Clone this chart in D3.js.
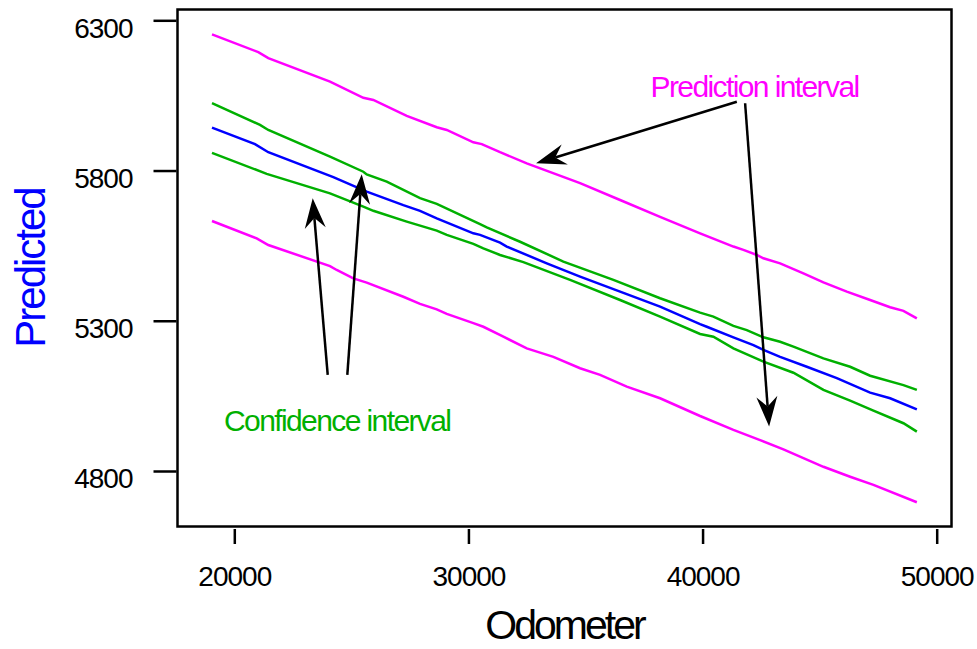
<!DOCTYPE html>
<html>
<head>
<meta charset="utf-8">
<script src="https://d3js.org/d3.v7.min.js"></script>
<style>
  body { margin: 0; background: #fff; }
  svg text { font-family: "Liberation Sans", Arial, sans-serif; }
</style>
</head>
<body>
<div id="chart"></div>
<script>
// values: [odometer, predicted]
const fitLine = [
  [19047, 5943], [20884, 5888], [21452, 5861], [24229, 5778], [25656, 5730],
  [27220, 5685], [27933, 5666], [28647, 5641], [30210, 5591], [30496, 5586],
  [31350, 5560], [31636, 5547], [33346, 5491], [34768, 5447], [36477, 5397],
  [38185, 5347], [39894, 5289], [40180, 5280], [41317, 5245], [42172, 5219],
  [42599, 5203], [43312, 5180], [44452, 5147], [45734, 5109], [47157, 5061],
  [48011, 5042], [49152, 5005]
];
const ciUpper = [
  [19047, 6024], [21098, 5952], [21452, 5935], [24088, 5846], [25511, 5796],
  [25656, 5787], [26511, 5763], [27933, 5708], [28647, 5689], [30496, 5622],
  [30782, 5611], [32205, 5563], [34055, 5497], [36191, 5436], [38185, 5375],
  [39894, 5327], [40462, 5314], [41317, 5283], [41889, 5269], [42599, 5245],
  [43312, 5230], [43880, 5214], [45162, 5175], [46302, 5147], [47157, 5117],
  [48579, 5086], [49152, 5070]
];
const ciLower = [
  [19047, 5859], [21384, 5789], [24088, 5724], [25511, 5680], [25938, 5666],
  [27365, 5630], [28647, 5600], [29074, 5586], [30210, 5556], [30637, 5541],
  [31350, 5519], [32346, 5495], [34341, 5436], [36477, 5369], [38185, 5314],
  [39894, 5256], [40462, 5247], [41317, 5208], [42599, 5164], [43880, 5127],
  [45162, 5070], [46302, 5034], [47298, 5001], [48579, 4959], [49152, 4931]
];
const piUpper = [
  [19047, 6253], [21025, 6194], [21452, 6174], [24088, 6096], [25511, 6042],
  [25938, 6035], [27365, 5982], [28647, 5944], [29074, 5935], [30210, 5894],
  [30569, 5888], [31350, 5861], [32491, 5824], [34768, 5758], [36477, 5702],
  [38185, 5646], [39894, 5591], [41317, 5547], [41744, 5536], [42317, 5519],
  [42599, 5508], [43312, 5491], [44307, 5458], [45162, 5428], [46161, 5397],
  [47157, 5369], [48011, 5345], [48579, 5333], [49152, 5308]
];
const piLower = [
  [19047, 5632], [20957, 5574], [21452, 5552], [24088, 5482], [24374, 5469],
  [25084, 5441], [25656, 5427], [27220, 5380], [27933, 5356], [28647, 5338],
  [29074, 5323], [30210, 5292], [30637, 5280], [31492, 5247], [32491, 5208],
  [33628, 5180], [34768, 5142], [35623, 5120], [36763, 5081], [38185, 5042],
  [39894, 4983], [41317, 4937], [42458, 4903], [43453, 4872], [45162, 4814],
  [46302, 4781], [47298, 4754], [49152, 4696]
];
const xTicks = [20000, 30000, 40000, 50000];
const yTicks = [4800, 5300, 5800, 6300];

// callouts, in data units
const labels = [
  { text: 'Prediction interval', x: 42220, y: 6045, color: '#ff00ff' },
  { text: 'Confidence interval', x: 24396, y: 4934, color: '#00b000' }
];
const arrows = [
  { from: [41463, 6029], to: [32889, 5824] },
  { from: [41817, 6024], to: [42842, 4948] },
  { from: [23990, 5120], to: [23349, 5708] },
  { from: [24827, 5120], to: [25443, 5788] }
];

(function () {
  const width = 977;
  const height = 649;
  const frame = { left: 177.5, right: 951.5, top: 9.5, bottom: 526.5 };

  const x = d3.scaleLinear().domain([20000, 50000]).range([234.3, 936.7]);
  const y = d3.scaleLinear().domain([4800, 6300]).range([471, 20.3]);

  const svg = d3.select('#chart')
    .append('svg')
    .attr('width', width)
    .attr('height', height);

  svg.append('rect')
    .attr('x', frame.left)
    .attr('y', frame.top)
    .attr('width', frame.right - frame.left)
    .attr('height', frame.bottom - frame.top)
    .attr('fill', 'none')
    .attr('stroke', '#000')
    .attr('stroke-width', 2.5);

  // y axis, ticks sit outside the frame
  const yAxis = svg.append('g')
    .attr('transform', 'translate(' + (frame.left - 1) + ',0)')
    .call(d3.axisLeft(y).tickValues(yTicks).tickSize(23).tickPadding(21).tickFormat(d3.format('d')));
  yAxis.select('.domain').remove();
  yAxis.selectAll('line').attr('stroke-width', 2.5);
  yAxis.selectAll('text')
    .attr('dy', '0.6em')
    .style('font-size', '28px')
    .style('letter-spacing', '-1px')
    .attr('fill', '#000');

  const xAxis = svg.append('g')
    .attr('transform', 'translate(0,' + (frame.bottom + 2.5) + ')')
    .call(d3.axisBottom(x).tickValues(xTicks).tickSize(15).tickPadding(22).tickFormat(d3.format('d')));
  xAxis.select('.domain').remove();
  xAxis.selectAll('line').attr('stroke-width', 2.5);
  xAxis.selectAll('text')
    .style('font-size', '28px')
    .style('letter-spacing', '-1px')
    .attr('fill', '#000');

  svg.append('text')
    .attr('transform', 'translate(45,' + ((frame.top + frame.bottom) / 2) + ') rotate(-90)')
    .attr('text-anchor', 'middle')
    .style('font-size', '42px')
    .style('letter-spacing', '-2px')
    .attr('fill', '#0000ff')
    .text('Predicted');

  svg.append('text')
    .attr('x', (frame.left + frame.right) / 2)
    .attr('y', 639)
    .attr('text-anchor', 'middle')
    .style('font-size', '41px')
    .style('letter-spacing', '-3px')
    .attr('fill', '#000')
    .text('Odometer');

  const line = d3.line()
    .x(d => x(d[0]))
    .y(d => y(d[1]));

  const series = [
    { data: piUpper, color: '#ff00ff' },
    { data: piLower, color: '#ff00ff' },
    { data: ciUpper, color: '#00b000' },
    { data: ciLower, color: '#00b000' },
    { data: fitLine, color: '#0000ff' }
  ];

  svg.selectAll('.series')
    .data(series)
    .enter().append('path')
    .attr('class', 'series')
    .attr('d', d => line(d.data))
    .attr('fill', 'none')
    .attr('stroke', d => d.color)
    .attr('stroke-width', 2.5);

  svg.selectAll('.label')
    .data(labels)
    .enter().append('text')
    .attr('class', 'label')
    .attr('x', d => x(d.x))
    .attr('y', d => y(d.y))
    .attr('text-anchor', 'middle')
    .style('font-size', '30px')
    .style('letter-spacing', '-1.6px')
    .attr('fill', d => d.color)
    .text(d => d.text);

  // arrow: shaft plus a notched head at the tip
  const headLen = 30, headHalf = 10.5, notch = 20;
  const angle = d => Math.atan2(y(d.to[1]) - y(d.from[1]), x(d.to[0]) - x(d.from[0]));

  const g = svg.selectAll('.arrow')
    .data(arrows)
    .enter().append('g')
    .attr('class', 'arrow');

  g.append('line')
    .attr('x1', d => x(d.from[0]))
    .attr('y1', d => y(d.from[1]))
    .attr('x2', d => x(d.to[0]) - Math.cos(angle(d)) * notch)
    .attr('y2', d => y(d.to[1]) - Math.sin(angle(d)) * notch)
    .attr('stroke', '#000')
    .attr('stroke-width', 2.5);

  g.append('path')
    .attr('d', 'M0,0L' + (-headLen) + ',' + (-headHalf) + 'L' + (-notch) + ',0L' + (-headLen) + ',' + headHalf + 'Z')
    .attr('transform', d => 'translate(' + x(d.to[0]) + ',' + y(d.to[1]) + ') rotate(' + (angle(d) * 180 / Math.PI) + ')')
    .attr('fill', '#000');
})();
</script>
</body>
</html>
